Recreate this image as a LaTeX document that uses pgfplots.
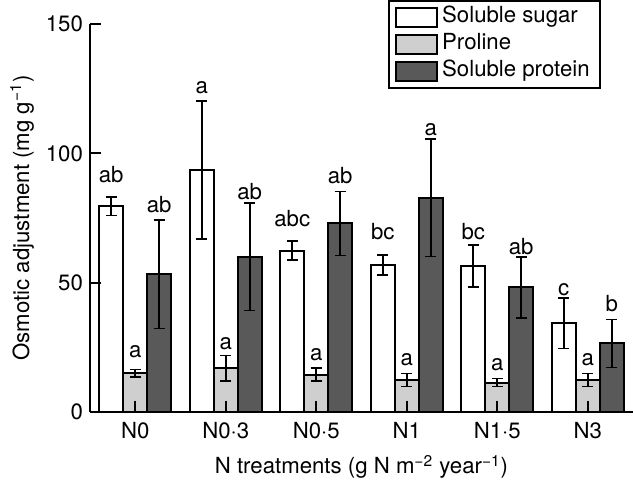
\documentclass[border=0pt]{standalone}
\usepackage{fontspec}
\setmainfont{TeX Gyre Heros}
\usepackage{pgfplots}
\pgfplotsset{compat=1.18}
\definecolor{prolinec}{HTML}{CFCFCF}
\definecolor{proteinc}{HTML}{595959}
\newcommand\ff{\fontsize{11.1}{13}\selectfont}
\begin{document}
\begin{tikzpicture}
\begin{axis}[
  at={(45pt,34.5pt)}, anchor=south west,
  scale only axis, width=271.5pt, height=194pt,
  ybar=0pt, bar width=12pt,
  xmin=-0.5, xmax=5.5, ymin=0, ymax=150,
  axis x line=bottom, axis y line=left,
  axis line style={-, line width=1pt},
  axis on top,
  xtick={0,1,2,3,4,5},
  xticklabels={N0,N0·3,N0·5,N1,N1·5,N3},
  ytick={0,50,100,150},
  yticklabels={0,50,100,150},
  tick align=inside,
  major tick length=5.5pt,
  tick style={line width=1pt, black},
  tick label style={font=\ff},
  xticklabel style={yshift=-1.5pt},
  /pgf/number format/assume math mode=true,
  xlabel={N treatments (g N m\textsuperscript{−2} year\textsuperscript{−1})},
  xlabel style={font=\ff, at={(axis description cs:0.5,0)}, anchor=base, yshift=-31pt},
  ylabel={Osmotic adjustment (mg g\textsuperscript{−1})},
  ylabel style={font=\ff, at={(axis description cs:-0.1123,0.5)}, anchor=base},
  legend style={at={(axis description cs:1,1)}, anchor=north east, xshift=-16pt, yshift=12pt,
    draw=black, line width=1pt, font=\ff, inner xsep=3pt, inner ysep=3pt,
    row sep=3pt, nodes={inner ysep=0pt, inner xsep=2.2pt, text height=8pt, text depth=2.5pt}},
  legend cell align=left,
  legend image code/.code={\draw[#1, line width=1pt] (0pt,-4.75pt) rectangle (20.5pt,4.75pt);},
  every axis plot/.append style={draw=black, line width=1pt},
  error bars/error bar style={black, line width=0.8pt, solid},
  error bars/error mark options={black, line width=0.8pt, mark size=2.75pt, rotate=90},
]
\addplot[fill=white, error bars/.cd, y dir=both, y explicit] coordinates {
  (0,79.6) +- (0,3.6)
  (1,93.5) +- (0,26.7)
  (2,62.4) +- (0,3.6)
  (3,56.8) +- (0,3.8)
  (4,56.5) +- (0,8.1)
  (5,34.3) +- (0,9.7)
};
\addplot[fill=prolinec, error bars/.cd, y dir=both, y explicit] coordinates {
  (0,15.0) +- (0,1.5)
  (1,16.9) +- (0,5.0)
  (2,14.4) +- (0,2.5)
  (3,12.4) +- (0,2.5)
  (4,11.4) +- (0,1.6)
  (5,12.4) +- (0,2.5)
};
\addplot[fill=proteinc, error bars/.cd, y dir=both, y explicit] coordinates {
  (0,53.3) +- (0,21.0)
  (1,60.0) +- (0,20.7)
  (2,72.9) +- (0,12.4)
  (3,82.8) +- (0,22.7)
  (4,48.2) +- (0,11.8)
  (5,26.5) +- (0,9.3)
};
\legend{Soluble sugar, Proline, Soluble protein}
\tikzset{lt/.style={anchor=base, inner sep=0pt, font=\ff}}
\node[lt] at ([xshift=-12pt]axis cs:0,88.9) {ab};
\node[lt] at ([xshift=-12pt]axis cs:1,123.3) {a};
\node[lt] at ([xshift=-12pt]axis cs:2,71.9) {abc};
\node[lt] at ([xshift=-12pt]axis cs:3,66.7) {bc};
\node[lt] at ([xshift=-12pt]axis cs:4,66.5) {bc};
\node[lt] at ([xshift=-12pt]axis cs:5,45.2) {c};
\node[lt] at (axis cs:0,20.9) {a};
\node[lt] at (axis cs:1,24.0) {a};
\node[lt] at (axis cs:2,20.0) {a};
\node[lt] at (axis cs:3,17.8) {a};
\node[lt] at (axis cs:4,16.2) {a};
\node[lt] at (axis cs:5,17.8) {a};
\node[lt] at ([xshift=12pt]axis cs:0,77.3) {ab};
\node[lt] at ([xshift=12pt]axis cs:1,82.3) {ab};
\node[lt] at ([xshift=12pt]axis cs:2,88.4) {ab};
\node[lt] at ([xshift=12pt]axis cs:3,106.7) {a};
\node[lt] at ([xshift=12pt]axis cs:4,60.7) {ab};
\node[lt] at ([xshift=12pt]axis cs:5,38.7) {b};
\end{axis}
\pgfresetboundingbox
\path (0,0) rectangle (316.5pt,240.5pt);
\end{tikzpicture}
\end{document}
